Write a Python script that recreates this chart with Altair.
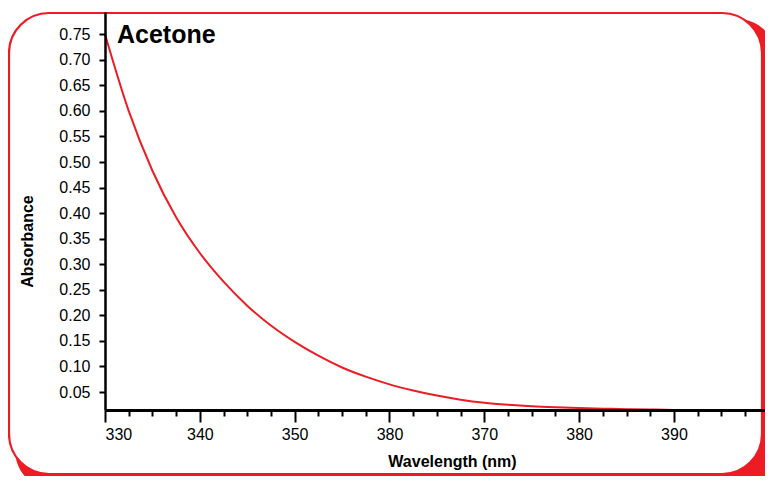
import altair as alt
import pandas as pd

# ---- data ----
chart_title = "Acetone"
wavelength = [330, 332.5, 335, 337.5, 340, 342.5, 345, 347.5, 350, 352.5, 355, 357.5,
              360, 362.5, 365, 367.5, 370, 372.5, 375, 377.5, 380, 382.5, 385, 387.5, 390]
absorbance = [0.750, 0.600, 0.483, 0.392, 0.322, 0.266, 0.219, 0.180, 0.148, 0.121,
              0.098, 0.080, 0.065, 0.053, 0.043, 0.035, 0.029, 0.025, 0.022, 0.020,
              0.0185, 0.0174, 0.0165, 0.0157, 0.0150]

x_tick_values = [330, 340, 350, 360, 370, 380, 390]
x_tick_labels = ["330", "340", "350", "380", "370", "380", "390"]
x_minor_ticks = [332.5, 335, 337.5, 342.5, 345, 347.5, 352.5, 355, 357.5, 362.5, 365,
                 367.5, 372.5, 375, 377.5, 382.5, 385, 387.5, 392.5, 395, 397.5]
y_tick_values = [0.05, 0.10, 0.15, 0.20, 0.25, 0.30, 0.35, 0.40, 0.45, 0.50, 0.55,
                 0.60, 0.65, 0.70, 0.75]
x_title = "Wavelength (nm)"
y_title = "Absorbance"

RED = "#ED1C24"
FONT = "Liberation Sans"
W, H = 660, 398

df = pd.DataFrame({"wavelength": wavelength, "absorbance": absorbance})
one = pd.DataFrame({"k": [0]})

label_expr = " : ".join(
    [f"datum.value == {v} ? '{l}'" for v, l in zip(x_tick_values, x_tick_labels)]
) + " : datum.label"

x_scale = alt.Scale(domain=[330, 399.6], nice=False, zero=False)
y_scale = alt.Scale(domain=[0.0148, 0.7936], nice=False, zero=False)

shadow = alt.Chart(one).mark_rect(fill=RED, cornerRadius=40).encode(
    x=alt.value(-90), x2=alt.value(672), y=alt.value(7), y2=alt.value(478)
)
frame = alt.Chart(one).mark_rect(
    fill="white", stroke=RED, strokeWidth=2.2, cornerRadius=40
).encode(x=alt.value(-96), x2=alt.value(657), y=alt.value(1), y2=alt.value(462))

line = alt.Chart(df).mark_line(color=RED, strokeWidth=2, interpolate="monotone").encode(
    x=alt.X("wavelength:Q", scale=x_scale,
            axis=alt.Axis(values=x_tick_values, labelExpr=label_expr, orient="bottom",
                          tickSize=12, tickWidth=2, tickColor="black",
                          domainWidth=2.8, domainColor="black", grid=False,
                          labelFont=FONT, labelFontSize=16, labelColor="black",
                          labelPadding=4, title=x_title, titleFont=FONT,
                          titleFontSize=16, titleFontWeight="bold", titleColor="black",
                          titleX=347, titleY=56, titleAnchor="middle",
                          titleAlign="center", titleBaseline="alphabetic", zindex=1)),
    y=alt.Y("absorbance:Q", scale=y_scale,
            axis=alt.Axis(values=y_tick_values, format=".2f", tickSize=6, tickWidth=2,
                          tickColor="black", domainWidth=2.5, domainColor="black",
                          grid=False, labelFont=FONT, labelFontSize=16,
                          labelColor="black", labelPadding=9, title=y_title,
                          titleFont=FONT, titleFontSize=16, titleFontWeight="bold",
                          titleColor="black", titleX=-77.5, titleY=229,
                          titleAngle=270, titleAlign="center",
                          titleBaseline="middle", zindex=1)),
)

minor = alt.Chart(pd.DataFrame({"m": x_minor_ticks})).mark_point(opacity=0).encode(
    x=alt.X("m:Q", scale=x_scale,
            axis=alt.Axis(values=x_minor_ticks, orient="bottom", tickSize=6,
                          tickWidth=2, tickColor="black", labels=False, domain=False,
                          grid=False, title=None, zindex=1)),
    y=alt.value(0),
)

label = alt.Chart(one).mark_text(
    text=chart_title, font=FONT, fontSize=25, fontWeight="bold", color="black",
    align="left", baseline="alphabetic"
).encode(x=alt.value(12), y=alt.value(31))

chart = alt.layer(shadow, frame, line, minor, label).resolve_axis(
    x="independent"
).properties(
    width=W, height=H,
    autosize=alt.AutoSizeParams(type="none"),
    padding={"left": 97, "top": 4, "right": 0, "bottom": 66},
).configure_view(stroke="transparent")

chart.save("out.html", embed_options={"renderer": "svg", "actions": False})
